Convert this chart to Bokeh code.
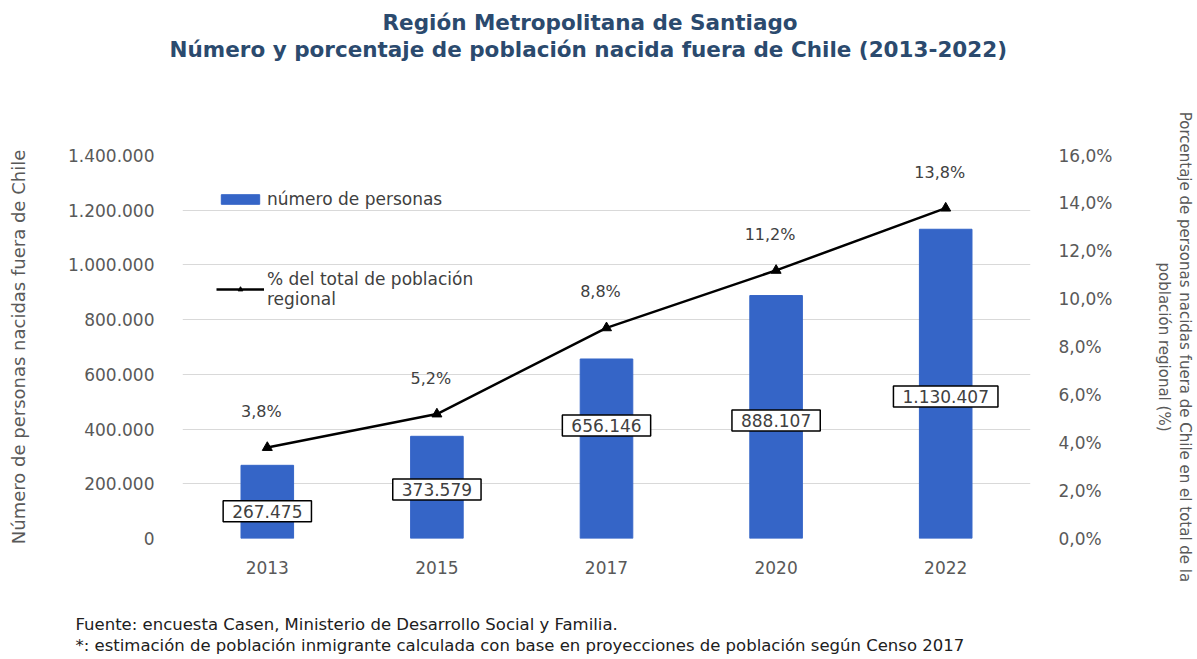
from bokeh.plotting import figure
from bokeh.models import (ColumnDataSource, Range1d, LinearAxis, FixedTicker, LabelSet,
                          Label, Legend, LegendItem, FactorRange, Title)
from bokeh.core.properties import value
from bokeh.embed import file_html
from bokeh.resources import INLINE

# ---- data ----
years = ["2013", "2015", "2017", "2020", "2022"]
personas = [267475, 373579, 656146, 888107, 1130407]
porcentaje = [3.8, 5.2, 8.8, 11.2, 13.8]
left_ticks = [0, 200000, 400000, 600000, 800000, 1000000, 1200000, 1400000]
right_ticks = [0, 2, 4, 6, 8, 10, 12, 14, 16]

# layout-only anchor heights for the boxed value labels (data units of left axis)
box_label_y = [100000, 179000, 413000, 431000, 519000]


def fmt_num(v):
    return f"{v:,}".replace(",", ".")


def fmt_pct(v):
    return f"{v:.1f}%".replace(".", ",")


src = ColumnDataSource(dict(
    x=years, personas=personas, pct=porcentaje,
    plab=[fmt_pct(v) for v in porcentaje],
))

W, H = 1197, 659
FL, FR, FT, FB = 182, 1040, 155, 538  # frame edges in canvas px

p = figure(width=W, height=H, x_range=FactorRange(*years, range_padding=0),
           y_range=Range1d(0, 1400000), output_backend="svg", toolbar_location=None,
           min_border_left=FL, min_border_right=W - FR, min_border_top=FT,
           min_border_bottom=H - FB)
p.outline_line_color = None
p.background_fill_color = "white"
p.border_fill_color = "white"

p.extra_y_ranges = {"pct": Range1d(0, 16)}

GRAY = "#595959"
FONT = "DejaVu Sans"

# grid
p.xgrid.grid_line_color = None
p.ygrid.grid_line_color = "#d9d9d9"
p.ygrid.grid_line_width = 1
p.ygrid.ticker = FixedTicker(ticks=left_ticks)

# left axis
ax = p.yaxis[0]
ax.ticker = FixedTicker(ticks=left_ticks)
ax.major_label_overrides = {t: fmt_num(t) for t in left_ticks}
ax.axis_line_color = None
ax.major_tick_line_color = None
ax.minor_tick_line_color = None
ax.major_label_standoff = 22
ax.major_label_text_font = FONT
ax.major_label_text_font_size = "17px"
ax.major_label_text_color = GRAY
ax.axis_label = "Número de personas nacidas fuera de Chile"
ax.axis_label_text_font = FONT
ax.axis_label_text_font_style = "normal"
ax.axis_label_text_font_size = "18px"
ax.axis_label_text_color = GRAY
ax.axis_label_standoff = 36

# right axis
rax = LinearAxis(y_range_name="pct", ticker=FixedTicker(ticks=right_ticks))
rax.major_label_overrides = {t: fmt_pct(t) for t in right_ticks}
rax.axis_line_color = None
rax.major_tick_line_color = None
rax.minor_tick_line_color = None
rax.major_label_standoff = 22
rax.major_label_text_font = FONT
rax.major_label_text_font_size = "17px"
rax.major_label_text_color = GRAY
rax.axis_label = ("Porcentaje de personas nacidas fuera de Chile en el total de la\n"
                  "población regional (%)")
rax.axis_label_text_font = FONT
rax.axis_label_text_font_style = "normal"
rax.axis_label_text_font_size = "15px"
rax.axis_label_text_color = GRAY
rax.axis_label_standoff = 39
p.add_layout(rax, "right")

# bottom axis
bx = p.xaxis[0]
bx.axis_line_color = None
bx.major_tick_line_color = None
bx.minor_tick_line_color = None
bx.major_label_standoff = 16
bx.major_label_text_font = FONT
bx.major_label_text_font_size = "17px"
bx.major_label_text_color = GRAY

# bars
bars = p.vbar(x="x", top="personas", width=0.31, source=src,
              fill_color="#3565C7", line_color="#3565C7")

# line
ln = p.line(x="x", y="pct", source=src, y_range_name="pct", line_color="black", line_width=2.5)
mk = p.scatter(x="x", y="pct", source=src, y_range_name="pct", marker="triangle", size=10,
               fill_color="black", line_color="black")

# percentage labels
p.add_layout(LabelSet(x="x", y="pct", text="plab", source=src, y_range_name="pct",
                      x_offset=-6, y_offset=36, text_align="center", text_baseline="middle",
                      text_font=value(FONT), text_font_size=value("16px"),
                      text_color="#404040"))

# boxed value labels (categorical position i -> synthetic coordinate i + 0.5)
for i, (v, by) in enumerate(zip(personas, box_label_y)):
    p.add_layout(Label(x=i + 0.5, y=by, text=fmt_num(v),
                       text_align="center", text_baseline="middle",
                       text_font=FONT, text_font_size="17px", text_color="#404040",
                       background_fill_color="white", border_line_color="black",
                       border_line_width=1.5, padding=(9, 4)))

# legend
legend = Legend(items=[
    LegendItem(label="número de personas", renderers=[bars]),
    LegendItem(label="% del total de población\nregional", renderers=[ln, mk]),
], location="top_left", orientation="vertical",
    glyph_width=48, glyph_height=12, spacing=60, padding=0, margin=34,
    label_standoff=3, label_text_font=FONT, label_text_font_size="17px",
    label_text_color="#404040", border_line_color=None, background_fill_alpha=0)
p.add_layout(legend, "center")


def spacer(px):
    # tiny white title used only to reserve vertical space in a side panel
    return Title(text=".", text_font_size="1px", text_color="white",
                 standoff=max(px - 3, 0))


# titles (above panel is stacked outward from the frame in order of addition)
TITLE_C = "#2B4A6E"
p.add_layout(spacer(94), "above")
p.add_layout(Title(text="Número y porcentaje de población nacida fuera de Chile (2013-2022)",
                   align="left", offset=-13, standoff=0, text_font=FONT,
                   text_font_style="bold", text_font_size="21.5px", text_color=TITLE_C),
             "above")
p.add_layout(Title(text="Región Metropolitana de Santiago",
                   align="left", offset=200, standoff=0, text_font=FONT,
                   text_font_style="bold", text_font_size="21.5px", text_color=TITLE_C),
             "above")

# footer (below panel is stacked outward from the frame in order of addition)
p.add_layout(spacer(36), "below")
p.add_layout(Title(text="Fuente: encuesta Casen, Ministerio de Desarrollo Social y Familia.",
                   align="left", offset=78 - FL - 3, standoff=0, text_font=FONT,
                   text_font_style="normal", text_font_size="16.5px", text_color="#202020"),
             "below")
p.add_layout(Title(text="*: estimación de población inmigrante calculada con base en proyecciones de población según Censo 2017",
                   align="left", offset=78 - FL - 3, standoff=0, text_font=FONT,
                   text_font_style="normal", text_font_size="16.5px", text_color="#202020"),
             "below")

open("out.html", "w").write(file_html(p, INLINE))
